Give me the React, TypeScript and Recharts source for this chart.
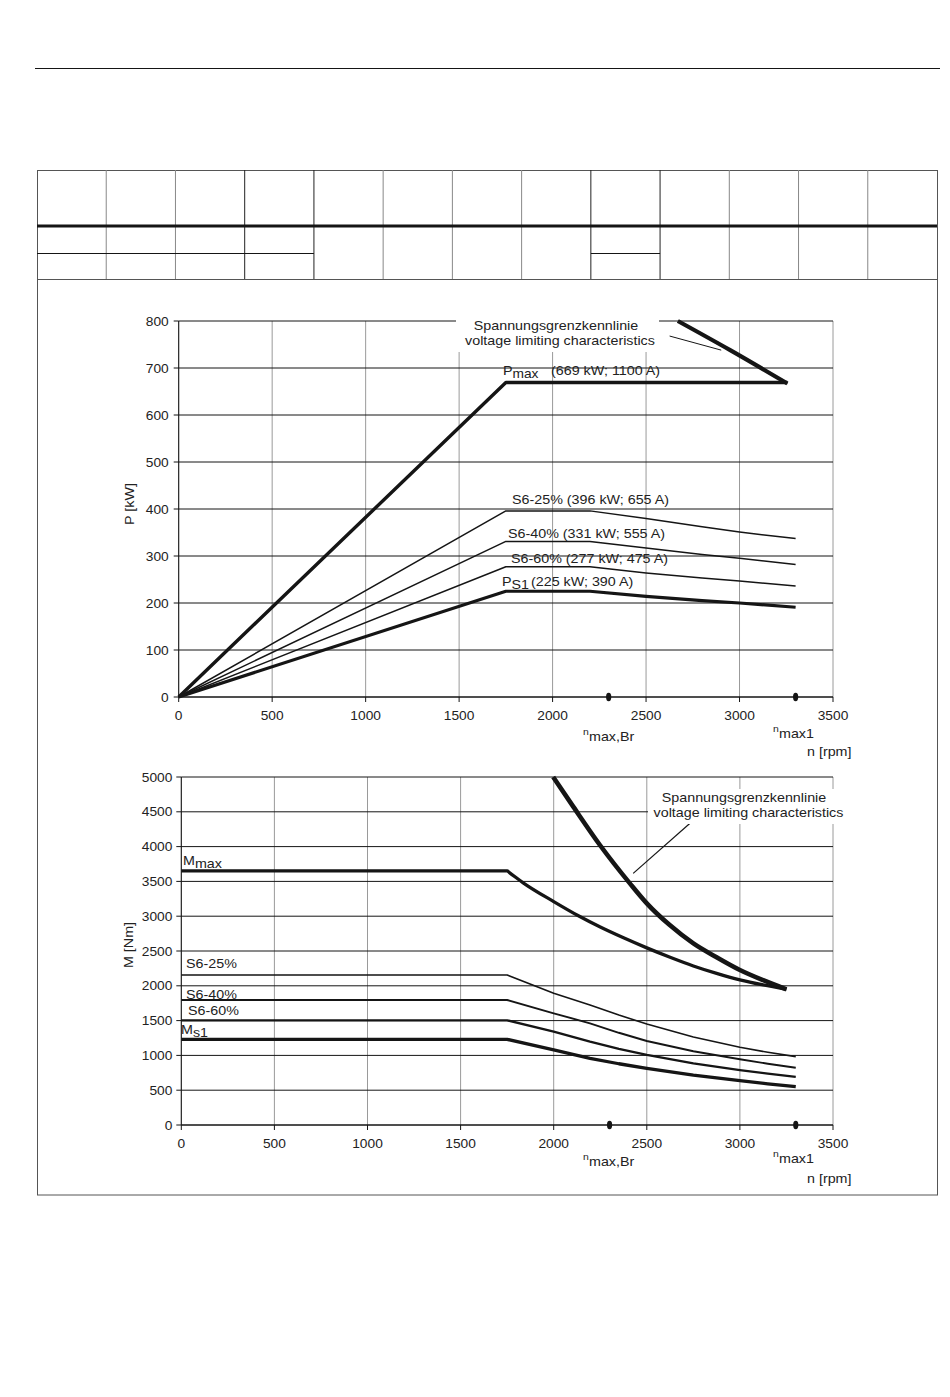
import { ComposedChart, Line, Scatter, XAxis, YAxis, CartesianGrid, ReferenceLine } from 'recharts'

type Pt = { x: number; y: number }
const pts = (a: number[][]): Pt[] => a.map(([x, y]) => ({ x, y }))

// axes
const speedTicks = [0, 500, 1000, 1500, 2000, 2500, 3000, 3500]
const powerTicks = [0, 100, 200, 300, 400, 500, 600, 700, 800]
const torqueTicks = [0, 500, 1000, 1500, 2000, 2500, 3000, 3500, 4000, 4500, 5000]
const markerSpeeds = [2300, 3300] // n max,Br / n max1

// P [kW] over n [rpm]
const pMax = [[0, 0], [1750, 669], [3256, 669]]
const pS6_25 = [[0, 0], [1750, 396], [2200, 396], [2500, 380], [2800, 362], [3000, 351], [3300, 337]]
const pS6_40 = [[0, 0], [1750, 331], [2200, 331], [2500, 317], [2800, 303], [3000, 295], [3300, 282]]
const pS6_60 = [[0, 0], [1750, 277], [2200, 277], [2500, 264], [2800, 253], [3000, 247], [3300, 236]]
const pS1 = [[0, 0], [1750, 225], [2200, 225], [2500, 214], [2800, 205], [3000, 200], [3300, 191]]
const pVoltage = [[2670, 800], [2950, 738], [3256, 667]]

// M [Nm] over n [rpm]
const mMax = [[0, 3650], [1750, 3650], [1762, 3627], [1836, 3480], [2000, 3210], [2130, 3010], [2250, 2845], [2375, 2690], [2500, 2545], [2625, 2410], [2750, 2285], [2875, 2178], [3000, 2085], [3125, 2012], [3250, 1950]]
const mS6_25 = [[0, 2155], [1750, 2155], [2000, 1892], [2195, 1724], [2350, 1580], [2500, 1451], [2750, 1265], [3000, 1116], [3150, 1045], [3300, 982]]
const mS6_40 = [[0, 1796], [1750, 1796], [2000, 1605], [2195, 1461], [2350, 1325], [2500, 1207], [2750, 1060], [3000, 944], [3150, 880], [3300, 823]]
const mS6_60 = [[0, 1504], [1750, 1504], [2000, 1341], [2195, 1197], [2350, 1095], [2500, 1006], [2750, 885], [3000, 790], [3150, 738], [3300, 690]]
const mS1 = [[0, 1231], [1750, 1231], [2000, 1078], [2195, 958], [2350, 880], [2500, 814], [2750, 715], [3000, 637], [3150, 592], [3300, 551]]
const mVoltage = [[1997, 5000], [2105, 4574], [2248, 4023], [2409, 3472], [2500, 3185], [2620, 2880], [2750, 2610], [2875, 2410], [3000, 2227], [3125, 2080], [3250, 1950]]

const FONT = '"Liberation Sans", Arial, Helvetica, sans-serif'
const INK = '#151515'
const STRETCH = 1.1

const markerShape = (p: any) => <ellipse cx={p.cx} cy={p.cy} rx={2.6} ry={4.2} fill={INK} />

const xTick = (p: any) => (
  <text transform={`translate(${p.x},${p.y}) scale(${STRETCH},1)`} textAnchor="middle" dy="0.71em"
    fontSize={12.5} fill="#222" fontFamily={FONT}>{p.payload.value}</text>
)
const yTick = (p: any) => (
  <text transform={`translate(${p.x},${p.y}) scale(${STRETCH},1)`} textAnchor="end" dy="0.36em"
    fontSize={12.5} fill="#222" fontFamily={FONT}>{p.payload.value}</text>
)

function Lbl({ x, y, anchor = 'start', size = 13, rotate = 0, children }: any) {
  return (
    <text transform={`translate(${x},${y}) rotate(${rotate}) scale(${STRETCH},1)`} textAnchor={anchor}
      fontSize={size} dominantBaseline={rotate ? 'central' : undefined}>{children}</text>
  )
}

function curve(d: number[][], w: number, key: string, smooth = false) {
  return (
    <Line key={key} data={pts(d)} dataKey="y" type={smooth ? 'monotone' : 'linear'} stroke={INK} strokeWidth={w}
      strokeLinejoin="round" dot={false} activeDot={false} isAnimationActive={false} />
  )
}

export default function App() {
  const cols = Array.from({ length: 14 }, (_, i) => 37 + (i * 900) / 13)
  return (
    <div style={{ position: 'absolute', left: 0, top: 0, width: 950, height: 1397, background: '#fff', fontFamily: FONT }}>
      {/* Leistung */}
      <div style={{ position: 'absolute', left: 100, top: 300 }}>
        <ComposedChart width={760} height={470} margin={{ top: 21, right: 27, bottom: 43, left: 0 }}>
          <CartesianGrid horizontal={false} stroke="#9a9a9a" />
          <CartesianGrid vertical={false} stroke={INK} />
          <XAxis type="number" dataKey="x" domain={[0, 3500]} ticks={speedTicks} interval={0} height={30}
            tickSize={5} tickMargin={9} tick={xTick} axisLine={{ stroke: INK }} tickLine={{ stroke: INK }} />
          <YAxis type="number" dataKey="y" domain={[0, 800]} ticks={powerTicks} interval={0} width={78.7}
            tickSize={5} tickMargin={5} tick={yTick} axisLine={{ stroke: INK }} tickLine={{ stroke: INK }} />
          {curve(pS6_25, 1.5, 'a')}
          {curve(pS6_40, 1.5, 'b')}
          {curve(pS6_60, 1.5, 'c')}
          {curve(pS1, 3.2, 'd')}
          {curve(pMax, 3.4, 'e')}
          {curve(pVoltage, 4.2, 'f', true)}
          <ReferenceLine segment={[{ x: 2626, y: 768 }, { x: 2902, y: 738 }]} stroke={INK} strokeWidth={1} />
          <Scatter data={markerSpeeds.map(x => ({ x, y: 0 }))} dataKey="y" shape={markerShape} isAnimationActive={false} />
        </ComposedChart>
      </div>

      {/* Drehmoment */}
      <div style={{ position: 'absolute', left: 100, top: 760 }}>
        <ComposedChart width={760} height={440} margin={{ top: 17, right: 27, bottom: 45, left: 0 }}>
          <CartesianGrid horizontal={false} stroke="#9a9a9a" />
          <CartesianGrid vertical={false} stroke={INK} />
          <XAxis type="number" dataKey="x" domain={[0, 3500]} ticks={speedTicks} interval={0} height={30}
            tickSize={5} tickMargin={9} tick={xTick} axisLine={{ stroke: INK }} tickLine={{ stroke: INK }} />
          <YAxis type="number" dataKey="y" domain={[0, 5000]} ticks={torqueTicks} interval={0} width={81.3}
            tickSize={5} tickMargin={4} tick={yTick} axisLine={{ stroke: INK }} tickLine={{ stroke: INK }} />
          {curve(mS6_25, 1.6, 'a')}
          {curve(mS6_40, 1.9, 'b')}
          {curve(mS6_60, 2.3, 'c')}
          {curve(mS1, 3.3, 'd')}
          {curve(mMax, 3.3, 'e', true)}
          {curve(mVoltage, 4.6, 'f', true)}
          <ReferenceLine segment={[{ x: 2732, y: 4335 }, { x: 2427, y: 3616 }]} stroke={INK} strokeWidth={1.2} />
          <Scatter data={markerSpeeds.map(x => ({ x, y: 0 }))} dataKey="y" shape={markerShape} isAnimationActive={false} />
        </ComposedChart>
      </div>

      {/* Rahmen, Tabelle, Beschriftung */}
      <svg width={950} height={1397} style={{ position: 'absolute', left: 0, top: 0, pointerEvents: 'none' }}
        fontFamily={FONT} fontSize={13} fill="#222">
        <line x1={35} y1={68.5} x2={940} y2={68.5} stroke={INK} strokeWidth={1} />

        <rect x={37.5} y={170.5} width={900} height={1024.5} fill="none" stroke="#555" strokeWidth={1} />
        {cols.slice(1, 13).map((x, i) => (
          <line key={i} x1={x} y1={170} x2={x} y2={279}
            stroke={[3, 4, 8, 9].includes(i + 1) ? '#222' : '#888'} strokeWidth={1} />
        ))}
        <line x1={37} y1={226} x2={937} y2={226} stroke={INK} strokeWidth={3} />
        <line x1={37} y1={253.5} x2={cols[4]} y2={253.5} stroke={INK} strokeWidth={1} />
        <line x1={cols[8]} y1={253.5} x2={cols[9]} y2={253.5} stroke={INK} strokeWidth={1} />
        <line x1={37} y1={279.5} x2={937} y2={279.5} stroke="#555" strokeWidth={1} />

        {/* top chart annotations */}
        <rect x={456} y={317} width={203} height={35} fill="#fff" />
        <Lbl x={556} y={330} anchor="middle">Spannungsgrenzkennlinie</Lbl>
        <Lbl x={560} y={345} anchor="middle">voltage limiting characteristics</Lbl>
        <Lbl x={503} y={375}>P<tspan dy={2.5} fontSize={12.5}>max</tspan></Lbl>
        <Lbl x={551} y={375}>(669 kW; 1100 A)</Lbl>
        <Lbl x={512} y={504}>S6-25% (396 kW; 655 A)</Lbl>
        <Lbl x={508} y={538}>S6-40% (331 kW; 555 A)</Lbl>
        <Lbl x={511} y={563}>S6-60% (277 kW; 475 A)</Lbl>
        <Lbl x={502} y={586}>P<tspan dy={3}>S1</tspan></Lbl>
        <Lbl x={531} y={586}>(225 kW; 390 A)</Lbl>
        <Lbl x={130} y={504} anchor="middle" rotate={-90}>P [kW]</Lbl>
        <Lbl x={583} y={735} size={9.5}>n</Lbl>
        <Lbl x={589} y={741}>max,Br</Lbl>
        <Lbl x={773} y={732} size={9.5}>n</Lbl>
        <Lbl x={779} y={738}>max1</Lbl>
        <Lbl x={807} y={756}>n [rpm]</Lbl>

        {/* bottom chart annotations */}
        <rect x={648} y={789} width={198} height={35} fill="#fff" />
        <Lbl x={744} y={802} anchor="middle">Spannungsgrenzkennlinie</Lbl>
        <Lbl x={748.5} y={817} anchor="middle">voltage limiting characteristics</Lbl>
        <Lbl x={183} y={865}>M<tspan dy={3}>max</tspan></Lbl>
        <Lbl x={186} y={968}>S6-25%</Lbl>
        <Lbl x={186} y={999}>S6-40%</Lbl>
        <Lbl x={188} y={1015}>S6-60%</Lbl>
        <Lbl x={181} y={1034}>M<tspan dy={3}>s1</tspan></Lbl>
        <Lbl x={129} y={945} anchor="middle" rotate={-90}>M [Nm]</Lbl>
        <Lbl x={583} y={1160} size={9.5}>n</Lbl>
        <Lbl x={589} y={1166}>max,Br</Lbl>
        <Lbl x={773} y={1157} size={9.5}>n</Lbl>
        <Lbl x={779} y={1163}>max1</Lbl>
        <Lbl x={807} y={1183}>n [rpm]</Lbl>
      </svg>
    </div>
  )
}
